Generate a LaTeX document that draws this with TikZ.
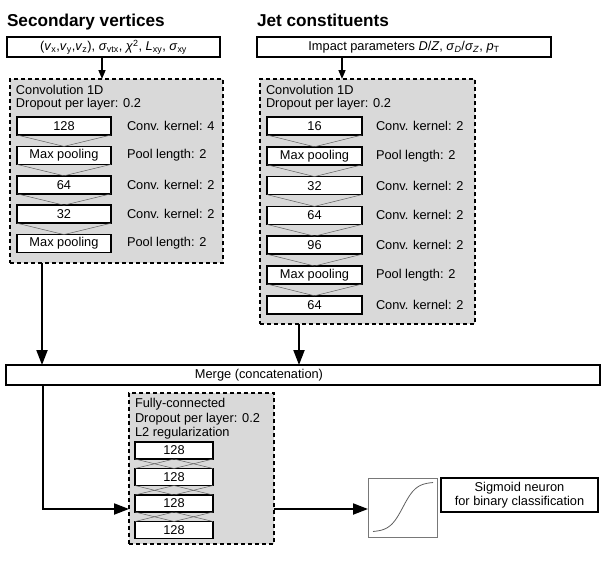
\documentclass[tikz,border=0pt]{standalone}
\usepackage{fontspec}
\setmainfont{Liberation Sans}
\usetikzlibrary{arrows.meta,calc}
\definecolor{blockfill}{RGB}{217,217,217}
\definecolor{linkgray}{RGB}{95,95,95}
\definecolor{sigframe}{RGB}{120,120,120}
\begin{document}
\begin{tikzpicture}[x=1pt,y=-1pt,
  every node/.style={font=\fontsize{12.8}{14}\selectfont, inner sep=0pt, outer sep=0pt},
  title/.style={font=\fontsize{17.2}{20}\selectfont\bfseries, anchor=base west},
  inbox/.style={draw, line width=1.5pt, minimum height=20pt, anchor=north west},
  blockbox/.style={draw, fill=blockfill, line width=1.8pt, dash pattern=on 4pt off 3pt, anchor=north west},
  layer/.style={draw, fill=white, line width=1.5pt, minimum height=18pt},
  fclayer/.style={draw, fill=white, line width=1.5pt, minimum height=17pt, minimum width=78pt},
  lbl/.style={anchor=west},
  btxt/.style={anchor=west},
  link/.style={draw=linkgray, line width=0.5pt},
  smallarr/.style={line width=1.5pt, -{Triangle[length=9pt,width=7pt]}},
  bigarr/.style={line width=2pt, -{Triangle[length=15pt,width=11pt]}},
]
\useasboundingbox (0,0) rectangle (607,565);

% titles
\node[title] (t1) at (7,26) {Secondary vertices};
\node[title] (t2) at (257,26) {Jet constituents};

% inputs
\node[inbox, minimum width=213pt] (in1) at (7,37) {(\textit{v}\textsubscript{x},\textit{v}\textsubscript{y},\textit{v}\textsubscript{z}), \textit{σ}\textsubscript{vtx}, \textit{χ}\textsuperscript{2}, \textit{L}\textsubscript{xy}, \textit{σ}\textsubscript{xy}};
\node[inbox, minimum width=294pt] (in2) at (257,37) {Impact parameters \textit{D}/\textit{Z}, \textit{σ}\textsubscript{\textit{D}}/\textit{σ}\textsubscript{\textit{Z}}, \textit{p}\textsubscript{T}};

% blocks
\node[blockbox, minimum width=213pt, minimum height=184pt] (blk1) at (10,79) {};
\node[blockbox, minimum width=215pt, minimum height=245pt] (blk2) at (260,79) {};

\coordinate (ax1) at (102,0);
\coordinate (ax2) at (342,0);
\draw[smallarr] (in1.south -| ax1) -- (blk1.north -| ax1);
\draw[smallarr] (in2.south -| ax2) -- (blk2.north -| ax2);

% left block content
\node[btxt] (b1a) at (16,90) {Convolution 1D};
\node[btxt] (b1b) at (16,104) {Dropout per layer: 0.2};
\foreach \i/\t/\k in {0/128/Conv. kernel: 4, 1/Max pooling/Pool length: 2, 2/64/Conv. kernel: 2, 3/32/Conv. kernel: 2, 4/Max pooling/Pool length: 2}{
  \node[layer, minimum width=94pt] (L\i) at (64,126+29.4*\i) {\t};
  \node[lbl] (LK\i) at (127,126+29.4*\i) {\k};
}
\foreach \a/\b in {0/1,1/2,2/3,3/4}{
  \draw[link] (L\a.south west) -- (L\b.north) -- (L\a.south east);
}

% right block content
\node[btxt] (b2a) at (266,90) {Convolution 1D};
\node[btxt] (b2b) at (266,104) {Dropout per layer: 0.2};
\foreach \i/\t/\k in {0/16/Conv. kernel: 2, 1/Max pooling/Pool length: 2, 2/32/Conv. kernel: 2, 3/64/Conv. kernel: 2, 4/96/Conv. kernel: 2, 5/Max pooling/Pool length: 2, 6/64/Conv. kernel: 2}{
  \node[layer, minimum width=95pt] (R\i) at (314.5,126+29.8*\i) {\t};
  \node[lbl] (RK\i) at (376,126+29.8*\i) {\k};
}
\foreach \a/\b in {0/1,1/2,2/3,3/4,4/5,5/6}{
  \draw[link] (R\a.south west) -- (R\b.north) -- (R\a.south east);
}

% merge
\node[draw, line width=1.5pt, minimum width=594pt, minimum height=20pt, anchor=north west] (merge) at (6,365) {};
\node (mergetxt) at (259,375) {Merge (concatenation)};
\coordinate (mx1) at (42,0);
\coordinate (mx2) at (299,0);
\draw[bigarr] (blk1.south -| mx1) -- (merge.north -| mx1);
\draw[bigarr] (blk2.south -| mx2) -- (merge.north -| mx2);

% fully connected block
\node[blockbox, minimum width=145pt, minimum height=151pt] (fc) at (129,393) {};
\node[btxt] (fca) at (135,404) {Fully-connected};
\node[btxt] (fcb) at (135,419) {Dropout per layer: 0.2};
\node[btxt] (fcc) at (135,433) {L2 regularization};
\foreach \i in {0,1,2,3}{
  \node[fclayer] (F\i) at (174,450.5+26.5*\i) {128};
}
\foreach \a/\b in {0/1,1/2,2/3}{
  \draw[link] (F\a.south west) -- (F\b.north);
  \draw[link] (F\a.south) -- (F\b.north west);
  \draw[link] (F\a.south) -- (F\b.north east);
  \draw[link] (F\a.south east) -- (F\b.north);
}
\coordinate (turn) at (43,509);
\draw[bigarr] (merge.south -| turn) -- (turn) -- (fc.west |- turn);

% sigmoid
\node[draw=sigframe, line width=1pt, minimum width=69pt, minimum height=59pt, anchor=north west] (sig) at (368,478) {};
\draw[linkgray, line width=0.8pt] plot[domain=-30:30, samples=80] ({403+\x},{532-50/(1+exp(-0.15*\x))});
\draw[bigarr] (fc.east |- turn) -- (sig.west |- turn);
\node[draw, line width=2pt, minimum width=157pt, minimum height=34pt, anchor=north west, align=center, font=\fontsize{12.8}{14}\selectfont] (out) at (441,478) {Sigmoid neuron\\for binary classification};
\end{tikzpicture}
\end{document}
